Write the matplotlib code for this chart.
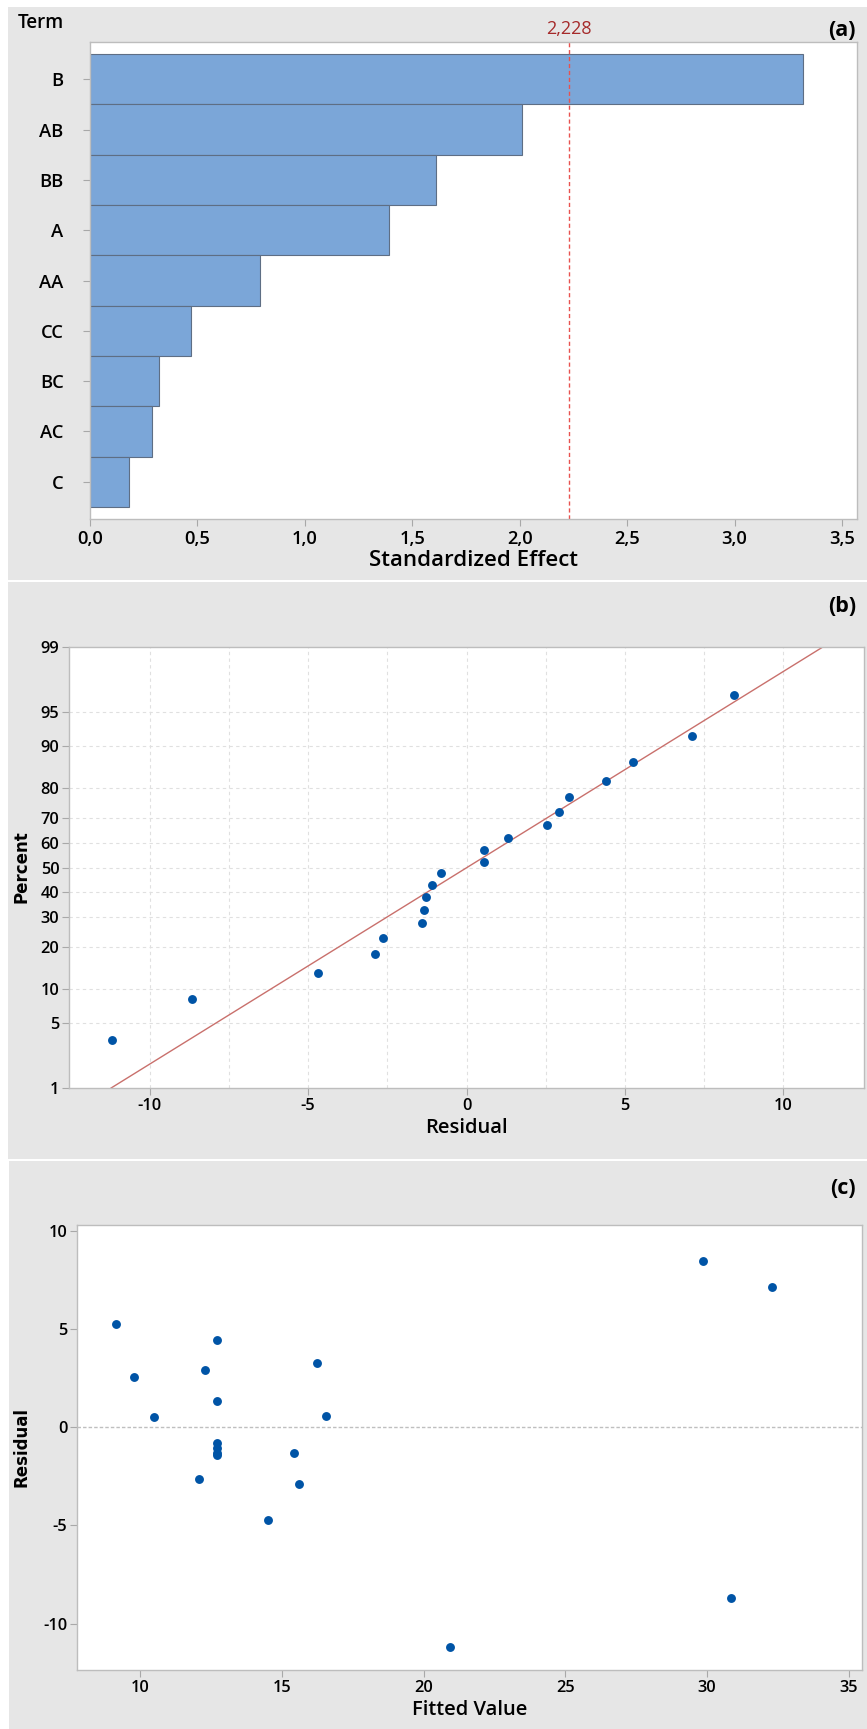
import math
import numpy as np
import matplotlib
matplotlib.use("Agg")
import matplotlib.pyplot as plt
from matplotlib.patches import Rectangle
from matplotlib.ticker import FixedLocator, FuncFormatter

plt.rcParams["font.family"] = ["Open Sans", "DejaVu Sans"]
plt.rcParams["font.weight"] = "semibold"
plt.rcParams["axes.labelweight"] = "semibold"
plt.rcParams["axes.unicode_minus"] = False

# ---- (a) Pareto chart of standardized effects ----
terms = ["B", "AB", "BB", "A", "AA", "CC", "BC", "AC", "C"]
effects = [3.32, 2.01, 1.61, 1.39, 0.79, 0.47, 0.32, 0.29, 0.18]
critical_value = 2.228
effect_ticks = [0.0, 0.5, 1.0, 1.5, 2.0, 2.5, 3.0, 3.5]

# ---- (b) normal probability plot of residuals ----
prob_residual = [-11.20, -8.68, -4.70, -2.90, -2.65, -1.40, -1.33, -1.29, -1.08, -0.80,
                 0.54, 0.55, 1.31, 2.55, 2.93, 3.25, 4.42, 5.26, 7.13, 8.44]
prob_percent = [3.4, 8.3, 13.2, 18.1, 23.0, 27.9, 32.8, 37.7, 42.6, 47.5,
                52.5, 57.4, 62.3, 67.2, 72.1, 77.0, 81.9, 86.8, 91.7, 96.6]
fit_line_residual = [-11.22, 11.25]
fit_line_percent = [1, 99]
percent_ticks = [1, 5, 10, 20, 30, 40, 50, 60, 70, 80, 90, 95, 99]
residual_ticks = [-10, -5, 0, 5, 10]
residual_grid = [-10, -7.5, -5, -2.5, 0, 2.5, 5, 7.5, 10]

# ---- (c) residuals versus fitted values ----
fitted = [9.14, 9.77, 10.47, 12.07, 12.29, 12.72, 12.72, 12.72, 12.72, 12.72,
          12.72, 14.51, 15.43, 15.59, 16.25, 16.57, 20.93, 29.86, 30.84, 32.30]
resid = [5.26, 2.55, 0.54, -2.65, 2.93, 4.42, 1.31, -0.80, -1.08, -1.29,
         -1.40, -4.70, -1.33, -2.90, 3.25, 0.55, -11.20, 8.44, -8.68, 7.13]
fitted_ticks = [10, 15, 20, 25, 30, 35]
resid_ticks = [-10, -5, 0, 5, 10]

W, H = 867, 1729
PANEL = "#E6E6E6"
BAR = "#7BA6D8"
BAR_EDGE = "#5E6E84"
DOT = "#0054A6"
SPINE = "#BDBDBD"
TICK = "#A8A8A8"


def fx(px):
    return px / W


def fy(py):
    return 1 - py / H


def rect(l, t, r, b):
    return [fx(l), fy(b), (r - l) / W, (b - t) / H]


# inverse normal CDF (Acklam's rational approximation) for the probability axis
_a = [-3.969683028665376e+01, 2.209460984245205e+02, -2.759285104469687e+02,
      1.383577518672690e+02, -3.066479806614716e+01, 2.506628277459239e+00]
_b = [-5.447609879822406e+01, 1.615858368580409e+02, -1.556989798598866e+02,
      6.680131188771972e+01, -1.328068155288572e+01]
_c = [-7.784894002430293e-03, -3.223964580411365e-01, -2.400758277161838e+00,
      -2.549671348850718e+00, 4.374664141464968e+00, 2.938163982698783e+00]
_d = [7.784695709041462e-03, 3.224671290700398e-01, 2.445134137142996e+00,
      3.754408661907416e+00]


def _tail(p):
    q = np.sqrt(-2 * np.log(p))
    return (((((_c[0] * q + _c[1]) * q + _c[2]) * q + _c[3]) * q + _c[4]) * q + _c[5]) / \
           ((((_d[0] * q + _d[1]) * q + _d[2]) * q + _d[3]) * q + 1)


def pct_to_z(pct):
    p = np.clip(np.asarray(pct, dtype=float) / 100.0, 1e-9, 1 - 1e-9)
    q = p - 0.5
    r = q * q
    central = (((((_a[0] * r + _a[1]) * r + _a[2]) * r + _a[3]) * r + _a[4]) * r + _a[5]) * q / \
              (((((_b[0] * r + _b[1]) * r + _b[2]) * r + _b[3]) * r + _b[4]) * r + 1)
    low = _tail(np.minimum(p, 0.5))
    high = -_tail(np.minimum(1 - p, 0.5))
    return np.where(p < 0.02425, low, np.where(p > 1 - 0.02425, high, central))


_erf = np.vectorize(math.erf)


def z_to_pct(z):
    z = np.asarray(z, dtype=float)
    return 50.0 * (1.0 + _erf(z / math.sqrt(2.0)))


def style_axes(ax, labelsize):
    for s in ax.spines.values():
        s.set_color(SPINE)
        s.set_linewidth(1.0)
    ax.tick_params(axis="both", colors=TICK, labelcolor="black", length=5,
                   width=0.8, labelsize=labelsize, pad=2)
    for lab in ax.get_xticklabels() + ax.get_yticklabels():
        lab.set_fontweight("semibold")


fig = plt.figure(figsize=(W / 100, H / 100), dpi=100, facecolor="white")

# grey panel backgrounds
for l, t, r, b in [(8, 7, 867, 580), (8, 582, 867, 1159), (9, 1161, 867, 1729)]:
    fig.patches.append(Rectangle((fx(l), fy(b)), (r - l) / W, (b - t) / H,
                                 transform=fig.transFigure, facecolor=PANEL,
                                 edgecolor="none", zorder=-5))

# ---------- (a) ----------
axA = fig.add_axes(rect(90, 42, 857, 519))
ypos = np.arange(len(terms))
axA.barh(ypos, effects, height=1.0, color=BAR, edgecolor=BAR_EDGE, linewidth=0.8)
axA.axvline(critical_value, color="#E8524F", lw=1.0, ls=(0, (3, 2)))
axA.set_xlim(0, 3.57)
axA.set_ylim(len(terms) - 0.26, -0.74)
axA.set_yticks(ypos)
axA.set_yticklabels(terms)
axA.xaxis.set_major_locator(FixedLocator(effect_ticks))
axA.xaxis.set_major_formatter(FuncFormatter(lambda v, _: f"{v:.1f}".replace(".", ",")))
style_axes(axA, 13.2)
axA.tick_params(axis="y", pad=14)
axA.tick_params(axis="x", pad=3)
axA.set_xlabel("Standardized Effect", fontsize=16, fontweight="semibold", labelpad=1)
axA.annotate("2,228", xy=(critical_value, 1.0), xycoords=("data", "axes fraction"),
             xytext=(0, 3), textcoords="offset points", ha="center", va="bottom",
             fontsize=13, fontweight="normal", color="#A52A2A")
fig.text(fx(18), fy(23), "Term", ha="left", va="center", fontsize=13.5, fontweight="semibold")
fig.text(fx(856), fy(30), "(a)", ha="right", va="center", fontsize=15.5, fontweight="bold")

# ---------- (b) ----------
axB = fig.add_axes(rect(69, 647, 864, 1088))
axB.set_yscale("function", functions=(pct_to_z, z_to_pct))
axB.set_ylim(1, 99)
axB.set_xlim(-12.55, 12.55)
axB.yaxis.set_major_locator(FixedLocator(percent_ticks))
axB.yaxis.set_major_formatter(FuncFormatter(lambda v, _: f"{v:g}"))
axB.yaxis.set_minor_locator(FixedLocator([]))
axB.xaxis.set_major_locator(FixedLocator(residual_ticks))
for gx in residual_grid:
    axB.axvline(gx, color="#E0E0E0", lw=0.8, ls=(0, (3, 3)), zorder=0)
for gy in percent_ticks[1:-1]:
    axB.axhline(gy, color="#E0E0E0", lw=0.8, ls=(0, (3, 3)), zorder=0)
axB.plot(fit_line_residual, fit_line_percent, color="#C9706C", lw=1.0, zorder=2)
axB.plot(prob_residual, prob_percent, "o", color=DOT, ms=6.4, mec="none", zorder=3)
style_axes(axB, 11.8)
axB.set_xlabel("Residual", fontsize=14.5, fontweight="semibold", labelpad=3)
fig.text(fx(22), fy(867), "Percent", rotation=90, ha="center", va="center",
         fontsize=12, fontweight="bold", family="DejaVu Sans")
fig.text(fx(856), fy(607), "(b)", ha="right", va="center", fontsize=15.5, fontweight="bold")

# ---------- (c) ----------
axC = fig.add_axes(rect(77, 1225, 862, 1670))
axC.axhline(0, color="#BFBFBF", lw=1.0, ls=(0, (2.5, 1.5)), zorder=1)
axC.plot(fitted, resid, "o", color=DOT, ms=6.4, mec="none", zorder=3)
axC.set_xlim(7.77, 35.47)
axC.set_ylim(-12.35, 10.28)
axC.xaxis.set_major_locator(FixedLocator(fitted_ticks))
axC.yaxis.set_major_locator(FixedLocator(resid_ticks))
style_axes(axC, 11.8)
axC.set_xlabel("Fitted Value", fontsize=14.5, fontweight="semibold", labelpad=3)
fig.text(fx(22), fy(1447), "Residual", rotation=90, ha="center", va="center",
         fontsize=12, fontweight="bold", family="DejaVu Sans")
fig.text(fx(856), fy(1189), "(c)", ha="right", va="center", fontsize=15.5, fontweight="bold")

fig.savefig("out.png", dpi=100, facecolor="white")
